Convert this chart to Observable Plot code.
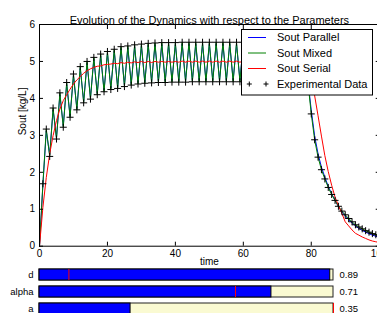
<!DOCTYPE html>
<html>
<head>
<meta charset="utf-8">
<script src="https://cdn.jsdelivr.net/npm/d3@7"></script>
<script src="https://cdn.jsdelivr.net/npm/@observablehq/plot@0.6"></script>
<style>
  html, body { margin: 0; padding: 0; background: #fff; overflow: hidden; }
  #chart { position: relative; width: 377px; height: 313px; overflow: hidden; background: #fff;
           font-family: "Liberation Sans", Arial, sans-serif; }
  #chart svg { position: absolute; left: 0; }
</style>
</head>
<body>
<div id="chart"></div>
<script>
// ---- data ----
const chartTitle = "Evolution of the Dynamics with respect to the Parameters";
const xLabel = "time";
const yLabel = "Sout [kg/L]";
const xTicks = [0, 20, 40, 60, 80, 100];
const yTicks = [0, 1, 2, 3, 4, 5, 6];

const time = [0,1,2,3,4,5,6,7,8,9,10,11,12,13,14,15,16,17,18,19,20,21,22,23,24,25,26,27,28,29,30,
  31,32,33,34,35,36,37,38,39,40,41,42,43,44,45,46,47,48,49,50,51,52,53,54,55,56,57,58,59,60,
  61,62,63,64,65,66,67,68,69,70,71,72,73,74,75,76,77,78,79,80,81,82,83,84,85,86,87,88,89,90,
  91,92,93,94,95,96,97,98,99,100];

const soutParallel = [0,
  1.66,3.12,2.47,3.69,2.94,4.10,3.26,4.38,3.53,4.61,3.73,4.81,3.92,4.95,4.02,5.06,4.14,5.15,4.22,
  5.22,4.28,5.28,4.31,5.35,4.36,5.37,4.40,5.40,4.43,5.42,4.45,5.44,4.46,5.45,4.47,5.46,4.47,5.46,4.48,
  5.46,4.48,5.47,4.48,5.47,4.49,5.47,4.49,5.47,4.49,5.47,4.49,5.47,4.49,5.47,4.49,5.47,4.49,5.47,4.49,
  5.47,4.49,5.47,4.49,5.47,4.49,5.47,4.49,5.47,4.49,5.47,4.49,5.47,4.49,5.47,4.49,5.47,4.49,5.47,4.49,
  3.68,2.98,2.50,2.14,1.87,1.62,1.42,1.24,1.07,0.93,0.82,0.72,0.63,0.55,0.48,0.43,0.38,0.34,0.30,0.27,0.24];

const soutMixed = [0,
  1.69,3.17,2.43,3.74,2.90,4.15,3.22,4.43,3.49,4.66,3.69,4.86,3.88,5.00,3.98,5.11,4.10,5.20,4.18,
  5.27,4.24,5.33,4.27,5.40,4.32,5.42,4.36,5.45,4.39,5.47,4.41,5.49,4.42,5.50,4.43,5.51,4.43,5.51,4.44,
  5.51,4.44,5.52,4.44,5.52,4.45,5.52,4.45,5.52,4.45,5.52,4.45,5.52,4.45,5.52,4.45,5.52,4.45,5.52,4.45,
  5.52,4.45,5.52,4.45,5.52,4.45,5.52,4.45,5.52,4.45,5.52,4.45,5.52,4.45,5.52,4.45,5.52,4.45,5.52,4.45,
  3.58,2.88,2.41,2.07,1.82,1.59,1.40,1.24,1.08,0.95,0.85,0.75,0.66,0.58,0.52,0.47,0.42,0.38,0.34,0.31,0.28];

const soutSerial = [
  0,1.05,1.86,2.50,2.99,3.40,3.71,3.94,4.10,4.25,4.39,4.50,4.59,4.68,4.75,4.80,4.84,4.87,4.88,4.91,
  4.92,4.93,4.95,4.94,4.97,4.95,4.98,4.96,4.99,4.97,5.00,4.97,5.00,4.97,5.00,4.98,5.00,4.98,5.00,4.98,
  5.00,4.98,5.01,4.98,5.01,4.98,5.01,4.98,5.01,4.98,5.01,4.98,5.01,4.98,5.01,4.98,5.01,4.98,5.01,4.98,
  5.01,4.98,5.01,4.98,5.01,4.98,5.01,4.98,5.01,4.98,5.01,4.98,5.01,4.98,5.01,4.98,5.01,4.98,5.01,4.98,
  4.75,4.07,3.53,2.98,2.45,2.02,1.65,1.33,1.10,0.89,0.66,0.55,0.44,0.35,0.30,0.25,0.21,0.17,0.14,0.12,0.10];

const expTime = time.slice(1);
const expData = [
  1.69,3.17,2.43,3.74,2.90,4.15,3.22,4.43,3.49,4.66,3.69,4.86,3.88,5.00,3.98,5.11,4.10,5.20,4.18,
  5.27,4.24,5.33,4.27,5.40,4.32,5.42,4.36,5.45,4.39,5.47,4.41,5.49,4.42,5.50,4.43,5.51,4.43,5.51,4.44,
  5.51,4.44,5.52,4.44,5.52,4.45,5.52,4.45,5.52,4.45,5.52,4.45,5.52,4.45,5.52,4.45,5.52,4.45,5.52,4.45,
  5.52,4.45,5.52,4.45,5.52,4.45,5.52,4.45,5.52,4.45,5.52,4.45,5.52,4.45,5.52,4.45,5.52,4.45,5.52,4.45,
  3.58,2.88,2.41,2.07,1.82,1.59,1.40,1.24,1.08,0.95,0.85,0.75,0.66,0.58,0.52,0.47,0.42,0.38,0.34,0.31,0.28];

const seriesNames = ["Sout Parallel", "Sout Mixed", "Sout Serial", "Experimental Data"];
const seriesColors = ["#0000ff", "#008000", "#ff0000", "#000000"];

// sliders
const sliderNames = ["d", "alpha", "a"];
const sliderValues = [0.89, 0.71, 0.35];
const sliderMins = [0, 0, 0];
const sliderMaxs = [0.9, 0.9, 1.13];
const sliderInits = [0.09, 0.6, 1.13];

// ---- build tables ----
const lineTable = (vals) => time.map((t, i) => ({t, v: vals[i]}));
const par = lineTable(soutParallel);
const mix = lineTable(soutMixed);
const ser = lineTable(soutSerial);
const exp = expTime.map((t, i) => ({t, v: expData[i]}));

const font = "'Liberation Sans', Arial, sans-serif";
const chart = document.getElementById("chart");

const main = Plot.plot({
  width: 377,
  height: 313,
  marginLeft: 39,
  marginRight: -1.7,
  marginTop: 24,
  marginBottom: 67.3,
  x: {domain: [0, 100]},
  y: {domain: [0, 6]},
  style: {fontFamily: font, fontSize: "10px", background: "transparent", color: "#000"},
  marks: [
    Plot.line(par, {x: "t", y: "v", stroke: seriesColors[0], strokeWidth: 1}),
    Plot.line(mix, {x: "t", y: "v", stroke: seriesColors[1], strokeWidth: 1}),
    Plot.line(ser, {x: "t", y: "v", stroke: seriesColors[2], strokeWidth: 1}),
    Plot.dot(exp, {x: "t", y: "v", symbol: "plus", r: 2.4, stroke: seriesColors[3], strokeWidth: 1}),
    Plot.frame({stroke: "#000", strokeWidth: 1}),
    Plot.axisX(xTicks, {anchor: "bottom", tickSize: 0, tickPadding: 3.5, label: null, fontSize: 10}),
    Plot.axisX(xTicks, {anchor: "bottom", tickSize: -4, fill: "none", label: null}),
    Plot.axisX(xTicks, {anchor: "top", tickSize: -4, fill: "none", label: null}),
    Plot.axisY(yTicks, {anchor: "left", tickSize: 0, tickPadding: 4.5, label: null, fontSize: 10}),
    Plot.axisY(yTicks, {anchor: "left", tickSize: -4, fill: "none", label: null}),
    Plot.axisY(yTicks, {anchor: "right", tickSize: -4, fill: "none", label: null}),
    Plot.text([chartTitle], {frameAnchor: "top", dy: -8, fontSize: 11, fill: "#000"}),
    Plot.text([xLabel], {frameAnchor: "bottom", dy: 18.4, fontSize: 10, fill: "#000"}),
    Plot.text([yLabel], {frameAnchor: "left", dx: -17, rotate: -90, fontSize: 10, fill: "#000"})
  ]
});
main.style.top = "0px";
chart.appendChild(main);

// sliders
const sliderTable = sliderNames.map((name, i) => ({
  name,
  value: sliderValues[i],
  lo: 0,
  hi: 1,
  frac: (sliderValues[i] - sliderMins[i]) / (sliderMaxs[i] - sliderMins[i]),
  initFrac: (sliderInits[i] - sliderMins[i]) / (sliderMaxs[i] - sliderMins[i])
}));

const sliders = Plot.plot({
  width: 377,
  height: 51,
  marginLeft: 39,
  marginRight: 44,
  marginTop: 0,
  marginBottom: 0,
  x: {domain: [0, 1], axis: null},
  y: {type: "band", domain: sliderNames, range: [7.3, 52.7], paddingInner: 0.33, paddingOuter: 0, axis: null},
  style: {fontFamily: font, fontSize: "9.5px", background: "transparent", color: "#000"},
  marks: [
    Plot.barX(sliderTable, {y: "name", x1: "lo", x2: "hi", fill: "#fafad2", stroke: "#222", strokeWidth: 1}),
    Plot.barX(sliderTable, {y: "name", x1: "lo", x2: "frac", fill: "#0000ff", stroke: "#000", strokeWidth: 1}),
    Plot.tickX(sliderTable, {y: "name", x: "initFrac", stroke: "#ff0000", strokeWidth: 1}),
    Plot.text(sliderTable, {y: "name", x: "hi", text: d => d.value.toFixed(2), dx: 6, textAnchor: "start", fill: "#000"}),
    Plot.axisY({anchor: "left", tickSize: 0, tickPadding: 6, label: null, fontSize: 9.5})
  ]
});
sliders.style.top = "262px";
chart.appendChild(sliders);

// legend
const lg = d3.select(chart).append("svg")
  .attr("width", 133).attr("height", 68)
  .style("left", "241px").style("top", "29px");
lg.append("rect").attr("x", 0.5).attr("y", 0.5).attr("width", 131).attr("height", 65.5)
  .attr("fill", "#fff").attr("stroke", "#000").attr("stroke-width", 1);
const rowY = [8.5, 24, 39.5, 55];
seriesNames.forEach((name, i) => {
  if (i < 3) {
    lg.append("line").attr("x1", 7).attr("x2", 25).attr("y1", rowY[i]).attr("y2", rowY[i])
      .attr("stroke", seriesColors[i]).attr("stroke-width", 1);
  } else {
    [8.3, 25].forEach(px => lg.append("path")
      .attr("d", `M${px - 2.5},${rowY[i]}H${px + 2.5}M${px},${rowY[i] - 2.5}V${rowY[i] + 2.5}`)
      .attr("stroke", "#000").attr("stroke-width", 1).attr("fill", "none"));
  }
  lg.append("text").attr("x", 36).attr("y", rowY[i]).attr("dy", "0.35em")
    .attr("font-family", font).attr("font-size", 11).attr("fill", "#000").text(name);
});
</script>
</body>
</html>
